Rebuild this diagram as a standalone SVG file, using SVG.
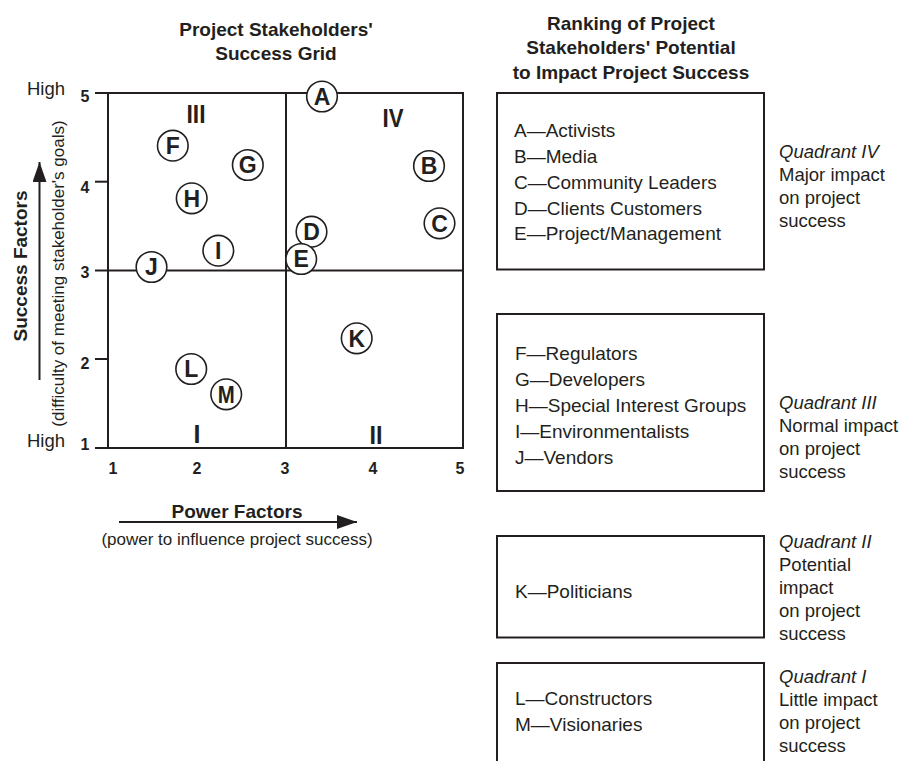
<svg xmlns="http://www.w3.org/2000/svg" width="906" height="761" viewBox="0 0 906 761">
<style>
text{font-family:"Liberation Sans",Arial,Helvetica,sans-serif;fill:#231f20}
.ttl{font-size:19px;font-weight:bold;text-anchor:middle}
.tick{font-size:16px;font-weight:bold;text-anchor:middle}
.quad{font-size:25px;font-weight:bold;text-anchor:middle}
.node circle{fill:#fff;stroke:#231f20;stroke-width:1.6}
.node text{font-size:23px;font-weight:bold;text-anchor:middle}
.ln{stroke:#231f20;stroke-width:2;fill:none}
.box{stroke:#231f20;stroke-width:2;fill:none}
.lst{font-size:19px}
.side{font-size:18.5px}
.it{font-style:italic}
.reg{font-size:18.5px}
</style>
<defs>
<marker id="arr" viewBox="0 0 20 14" refX="20" refY="7" markerWidth="20" markerHeight="14" markerUnits="userSpaceOnUse" orient="auto">
<path d="M0,0 L20,7 L0,14 Z" fill="#231f20"/>
</marker>
</defs>

<!-- titles -->
<text class="ttl" x="276" y="36">Project Stakeholders'</text>
<text class="ttl" x="276" y="60">Success Grid</text>
<text class="ttl" x="631" y="29.5">Ranking of Project</text>
<text class="ttl" x="631" y="54">Stakeholders' Potential</text>
<text class="ttl" x="631" y="78.5">to Impact Project Success</text>

<!-- grid -->
<g id="grid">
<rect class="ln" x="108" y="93" width="355" height="355"/>
<line class="ln" x1="286" y1="93" x2="286" y2="448"/>
<line class="ln" x1="95" y1="93" x2="108" y2="93"/>
<line class="ln" x1="95" y1="181.7" x2="108" y2="181.7"/>
<line class="ln" x1="95" y1="270.5" x2="463" y2="270.5"/>
<line class="ln" x1="95" y1="359" x2="108" y2="359"/>
<line class="ln" x1="95" y1="448" x2="108" y2="448"/>
<text class="tick" x="85" y="102">5</text>
<text class="tick" x="85" y="193">4</text>
<text class="tick" x="85" y="278">3</text>
<text class="tick" x="85" y="369">2</text>
<text class="tick" x="85" y="450">1</text>
<text class="tick" x="113" y="474">1</text>
<text class="tick" x="197" y="474">2</text>
<text class="tick" x="285" y="474">3</text>
<text class="tick" x="373" y="474">4</text>
<text class="tick" x="460" y="474">5</text>
<text class="reg" x="27" y="95">High</text>
<text class="reg" x="27" y="447">High</text>
<text class="quad" x="196" y="123" textLength="19" lengthAdjust="spacingAndGlyphs">III</text>
<text class="quad" x="393" y="127" textLength="21" lengthAdjust="spacingAndGlyphs">IV</text>
<text class="quad" x="197" y="443">I</text>
<text class="quad" x="376" y="444" textLength="13" lengthAdjust="spacingAndGlyphs">II</text>
</g>

<!-- axis labels -->
<text class="ttl" x="237" y="518">Power Factors</text>
<text x="237" y="545" style="font-size:17px;text-anchor:middle">(power to influence project success)</text>
<text class="ttl" transform="translate(27,266) rotate(-90)" x="0" y="0">Success Factors</text>
<text transform="translate(64,273.5) rotate(-90)" x="0" y="0" style="font-size:17px;text-anchor:middle">(difficulty of meeting stakeholder's goals)</text>

<g id="connectors">
<line class="ln" x1="119" y1="522" x2="357" y2="522" marker-end="url(#arr)"/>
<line class="ln" x1="39.5" y1="380" x2="39.5" y2="162" marker-end="url(#arr)"/>
</g>

<!-- stakeholder nodes -->
<g id="node-A" class="node"><circle cx="322" cy="96.5" r="15.3"/><text x="322" y="104.7">A</text></g>
<g id="node-B" class="node"><circle cx="429" cy="166" r="15.3"/><text x="429" y="174.2">B</text></g>
<g id="node-C" class="node"><circle cx="439.5" cy="223.3" r="15.3"/><text x="439.5" y="231.5">C</text></g>
<g id="node-D" class="node"><circle cx="311.5" cy="231.7" r="15.3"/><text x="311.5" y="239.9">D</text></g>
<g id="node-E" class="node"><circle cx="301.2" cy="259" r="15.3"/><text x="301.2" y="267.2">E</text></g>
<g id="node-F" class="node"><circle cx="172.8" cy="145.7" r="15.3"/><text x="172.8" y="153.9">F</text></g>
<g id="node-G" class="node"><circle cx="247.8" cy="165" r="15.3"/><text x="247.8" y="173.2">G</text></g>
<g id="node-H" class="node"><circle cx="191.7" cy="198.3" r="15.3"/><text x="191.7" y="206.5">H</text></g>
<g id="node-I" class="node"><circle cx="218.3" cy="250.7" r="15.3"/><text x="218.3" y="258.9">I</text></g>
<g id="node-J" class="node"><circle cx="151.5" cy="267" r="15.3"/><text x="151.5" y="275.2">J</text></g>
<g id="node-K" class="node"><circle cx="356.7" cy="338.3" r="15.3"/><text x="356.7" y="346.5">K</text></g>
<g id="node-L" class="node"><circle cx="191.2" cy="369" r="15.3"/><text x="191.2" y="377.2">L</text></g>
<g id="node-M" class="node"><circle cx="226.2" cy="394.3" r="15.3"/><text x="226.2" y="402.5" textLength="17" lengthAdjust="spacingAndGlyphs">M</text></g>

<!-- ranking boxes -->
<g id="box-q4">
<rect class="box" x="497" y="93" width="267" height="176.5"/>
<text class="lst" x="514" y="137">A—Activists</text>
<text class="lst" x="514" y="163">B—Media</text>
<text class="lst" x="514" y="189">C—Community Leaders</text>
<text class="lst" x="514" y="214.5">D—Clients Customers</text>
<text class="lst" x="514" y="240">E—Project/Management</text>
<text class="side it" x="779" y="158">Quadrant IV</text>
<text class="side" x="779" y="181">Major impact</text>
<text class="side" x="779" y="204">on project</text>
<text class="side" x="779" y="227">success</text>
</g>
<g id="box-q3">
<rect class="box" x="497" y="314" width="267" height="177"/>
<text class="lst" x="515" y="360">F—Regulators</text>
<text class="lst" x="515" y="386">G—Developers</text>
<text class="lst" x="515" y="412">H—Special Interest Groups</text>
<text class="lst" x="515" y="438">I—Environmentalists</text>
<text class="lst" x="515" y="464">J—Vendors</text>
<text class="side it" x="779" y="409">Quadrant III</text>
<text class="side" x="779" y="432">Normal impact</text>
<text class="side" x="779" y="455">on project</text>
<text class="side" x="779" y="478">success</text>
</g>
<g id="box-q2">
<rect class="box" x="497" y="536" width="267" height="101.5"/>
<text class="lst" x="515" y="598">K—Politicians</text>
<text class="side it" x="779" y="548">Quadrant II</text>
<text class="side" x="779" y="571">Potential</text>
<text class="side" x="779" y="594">impact</text>
<text class="side" x="779" y="617">on project</text>
<text class="side" x="779" y="640">success</text>
</g>
<g id="box-q1">
<path class="box" d="M497,762 V663 H764 V762"/>
<text class="lst" x="515" y="705">L—Constructors</text>
<text class="lst" x="515" y="731">M—Visionaries</text>
<text class="side it" x="779" y="683">Quadrant I</text>
<text class="side" x="779" y="706">Little impact</text>
<text class="side" x="779" y="729">on project</text>
<text class="side" x="779" y="752">success</text>
</g>
</svg>
